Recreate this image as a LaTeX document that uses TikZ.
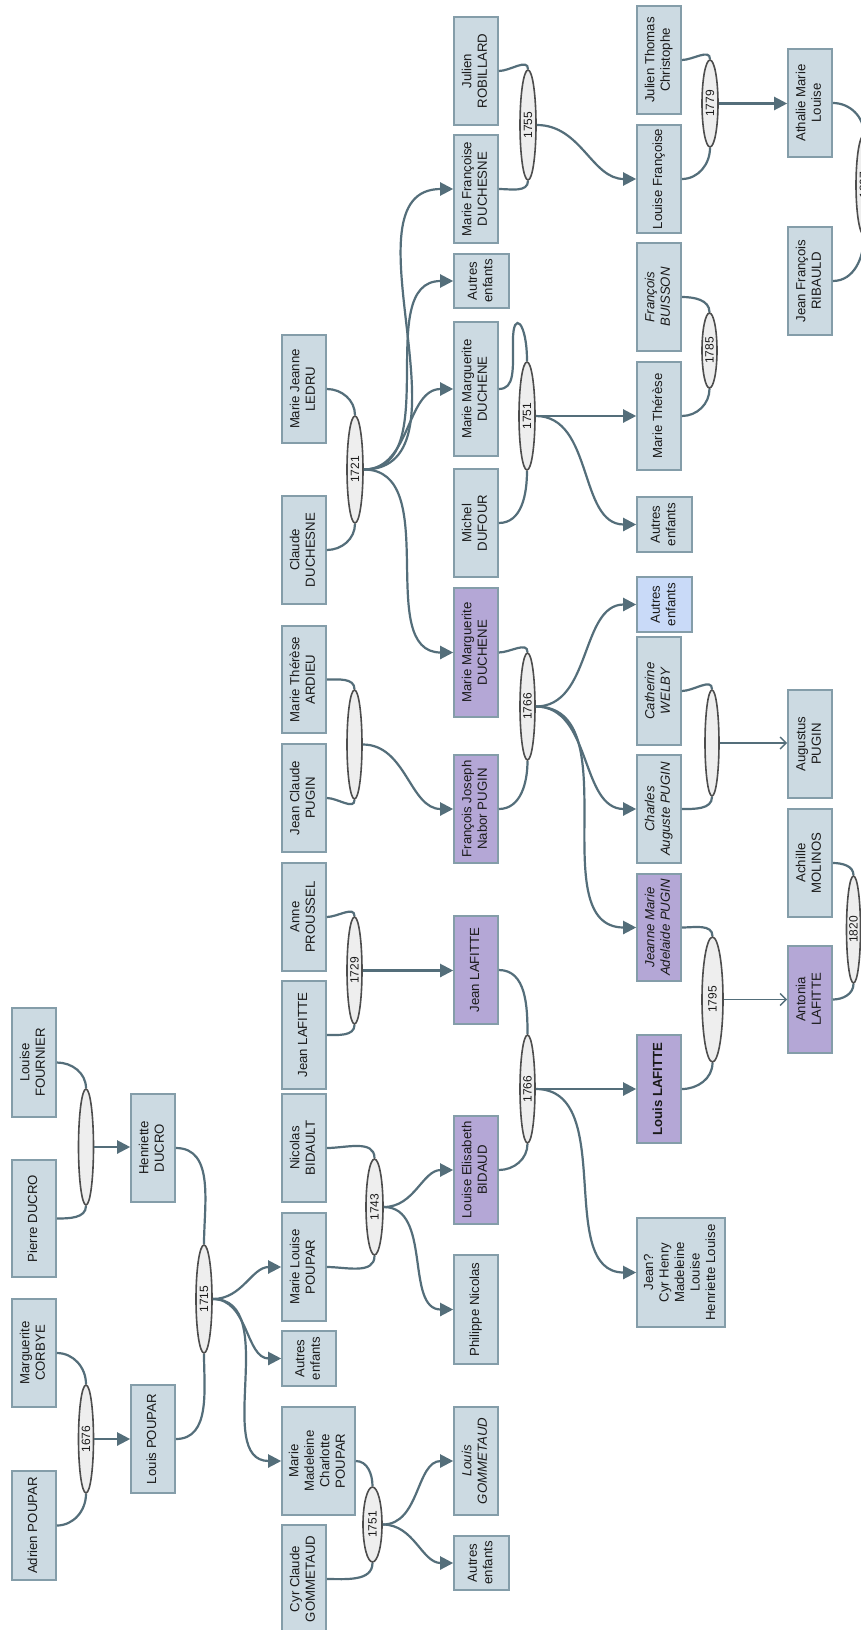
\documentclass[tikz,border=0pt]{standalone}
\usepackage{fontspec}
\usepackage{graphicx}
\setmainfont{Liberation Sans}
\usetikzlibrary{shapes.geometric,arrows.meta}
\definecolor{boxfill}{HTML}{CCDAE2}
\definecolor{boxline}{HTML}{849DA9}
\definecolor{purplefill}{HTML}{B4A7D6}
\definecolor{bluefill}{HTML}{C9DAF8}
\definecolor{ellfill}{HTML}{EEEEEE}
\definecolor{ellline}{HTML}{4D4D4D}
\definecolor{linkcol}{HTML}{546E7A}
\definecolor{textcol}{HTML}{1A1A1A}
\newcommand\rtxt[1]{\rotatebox{90}{\begin{tabular}{@{}c@{}}#1\end{tabular}}}
\begin{document}
\begin{tikzpicture}[x=1pt,y=1pt,
  box/.style={draw=boxline, line width=1.6pt, fill=boxfill, inner sep=0pt, text=textcol, font=\fontsize{13.2}{15.5}\selectfont},
  purple/.style={box, fill=purplefill},
  bluebox/.style={box, fill=bluefill},
  it/.style={font=\fontsize{13.2}{15.5}\selectfont\itshape},
  bf/.style={font=\fontsize{13.2}{15.5}\selectfont\bfseries},
  sz/.style 2 args={minimum width=#1pt, minimum height=#2pt},
  ell/.style={ellipse, draw=ellline, line width=1.6pt, fill=ellfill, inner sep=0pt, text=textcol, font=\fontsize{12}{14}\selectfont},
  link/.style={draw=linkcol, line width=2.2pt},
  kid/.style={link, -{Triangle[length=13pt,width=13pt]}},
  thinkid/.style={draw=linkcol, line width=1.4pt, -{Straight Barb[length=6pt,width=12pt]}}
]
\fill[white] (0,0) rectangle (861,-1630);
\useasboundingbox (0,0) rectangle (861,-1630);

% ---- boxes ----
\node[box, sz={44}{109}] (fournier) at (34,-1062.5) {\rtxt{Louise\\FOURNIER}};
\node[box, sz={44}{117}] (pducro) at (34,-1218.5) {\rtxt{Pierre DUCRO}};
\node[box, sz={44}{108}] (corbye) at (34,-1353) {\rtxt{Marguerite\\CORBYE}};
\node[box, sz={44}{109}] (apoupar) at (34,-1525.5) {\rtxt{Adrien POUPAR}};
\node[box, sz={44}{108}] (hducro) at (153,-1148) {\rtxt{Henriette\\DUCRO}};
\node[box, sz={44}{108}] (lpoupar) at (153,-1439) {\rtxt{Louis POUPAR}};
\node[box, sz={44}{108}] (mlpoupar) at (304,-1267) {\rtxt{Marie Louise\\POUPAR}};
\node[box, sz={54}{55}] (aut1715) at (309,-1358.5) {\rtxt{Autres\\enfants}};
\node[box, sz={73}{108}] (mmc) at (318.5,-1461) {\rtxt{Marie\\Madeleine\\Charlotte\\POUPAR}};
\node[box, sz={44}{108}] (cyr) at (304,-1579) {\rtxt{Cyr Claude\\GOMMETAUD}};
\node[box, it, sz={44}{108}] (lgomm) at (476,-1461) {\rtxt{Louis\\GOMMETAUD}};
\node[box, sz={55}{54}] (autG) at (481.5,-1563) {\rtxt{Autres\\enfants}};
\node[box, sz={44}{108}] (nbid) at (304,-1148) {\rtxt{Nicolas\\BIDAULT}};
\node[box, sz={44}{108}] (jlaf1) at (304,-1035) {\rtxt{Jean LAFITTE}};
\node[purple, sz={44}{108}] (lebid) at (476,-1170) {\rtxt{Louise Elisabeth\\BIDAUD}};
\node[box, sz={44}{109}] (phil) at (476,-1309.5) {\rtxt{Philippe Nicolas}};
\node[box, sz={44}{108}] (prou) at (304,-917) {\rtxt{Anne\\PROUSSEL}};
\node[box, sz={44}{108}] (jcpugin) at (304,-798) {\rtxt{Jean Claude\\PUGIN}};
\node[purple, sz={44}{108}] (jlaf2) at (476,-970) {\rtxt{Jean LAFITTE}};
\node[purple, sz={44}{108}] (fjnp) at (476,-809) {\rtxt{François Joseph\\Nabor PUGIN}};
\node[box, sz={44}{107}] (ardieu) at (304,-679.5) {\rtxt{Marie Thérèse\\ARDIEU}};
\node[box, sz={44}{108}] (ledru) at (304,-389) {\rtxt{Marie Jeanne\\LEDRU}};
\node[box, sz={44}{108}] (cduch) at (304,-550) {\rtxt{Claude\\DUCHESNE}};
\node[box, sz={44}{134}] (mmd1) at (476,-389) {\rtxt{Marie Marguerite\\DUCHENE}};
\node[box, sz={44}{108}] (dufour) at (476,-523) {\rtxt{Michel\\DUFOUR}};
\node[purple, sz={44}{129}] (mmd2) at (476,-652.5) {\rtxt{Marie Marguerite\\DUCHENE}};
\node[box, sz={44}{108}] (mtherese) at (659,-416) {\rtxt{Marie Thérèse}};
\node[box, sz={55}{55}] (aut1751) at (664.5,-524.5) {\rtxt{Autres\\enfants}};
\node[bluebox, sz={55}{55}] (autblue) at (664.5,-604.5) {\rtxt{Autres\\enfants}};
\node[box, it, sz={44}{108}] (welby) at (659,-691) {\rtxt{Catherine\\WELBY}};
\node[box, sz={44}{108}] (robil) at (476,-71) {\rtxt{Julien\\ROBILLARD}};
\node[box, sz={44}{108}] (mfduch) at (476,-189) {\rtxt{Marie Françoise\\DUCHESNE}};
\node[box, sz={55}{54}] (aut1721) at (481.5,-281) {\rtxt{Autres\\enfants}};
\node[box, sz={44}{108}] (jtc) at (659,-60) {\rtxt{Julien Thomas\\Christophe}};
\node[box, sz={44}{108}] (lfr) at (659,-179) {\rtxt{Louise Françoise}};
\node[box, sz={44}{108}] (athalie) at (810,-103) {\rtxt{Athalie Marie\\Louise}};
\node[box, sz={44}{108}] (ribauld) at (810,-281) {\rtxt{Jean François\\RIBAULD}};
\node[box, it, sz={44}{108}] (buisson) at (659,-297) {\rtxt{François\\BUISSON}};
\node[box, sz={44}{108}] (augustus) at (810,-744) {\rtxt{Augustus\\PUGIN}};
\node[box, it, sz={44}{108}] (charles) at (659,-809) {\rtxt{Charles\\Auguste PUGIN}};
\node[purple, it, sz={44}{107}] (jmapugin) at (659,-927.5) {\rtxt{Jeanne Marie\\Adelaide PUGIN}};
\node[purple, bf, sz={44}{108}] (llafitte) at (659,-1089) {\rtxt{Louis LAFITTE}};
\node[purple, sz={44}{107}] (antonia) at (810,-999.5) {\rtxt{Antonia\\LAFITTE}};
\node[box, sz={44}{108}] (achille) at (810,-863) {\rtxt{Achille\\MOLINOS}};
\node[box, sz={88}{109}] (jean) at (681,-1272.5) {\rtxt{Jean?\\Cyr Henry\\Madeleine\\Louise\\Henriette Louise}};

% ---- marriage ellipses ----
\node[ell, sz={15}{116}] (educro) at (86,-1147) {};
\node[ell, sz={15}{108}] (e1676) at (86,-1439) {\rotatebox{90}{1676}};
\node[ell, sz={16}{108}] (e1715) at (204,-1299) {\rotatebox{90}{1715}};
\node[ell, sz={19}{75}] (e1751g) at (372.5,-1524.5) {\rotatebox{90}{1751}};
\node[ell, sz={17}{96}] (e1743) at (374.5,-1207) {\rotatebox{90}{1743}};
\node[ell, sz={15}{107}] (e1729) at (354.5,-970.5) {\rotatebox{90}{1729}};
\node[ell, sz={15}{109}] (epugin) at (354.5,-744.5) {};
\node[ell, sz={16}{107}] (e1721) at (355,-469.5) {\rotatebox{90}{1721}};
\node[ell, sz={16}{108}] (e1751d) at (527,-416) {\rotatebox{90}{1751}};
\node[ell, sz={15}{107}] (e1766p) at (527.5,-706.5) {\rotatebox{90}{1766}};
\node[ell, sz={15}{108}] (e1766l) at (527.5,-1089) {\rotatebox{90}{1766}};
\node[ell, sz={16}{110}] (e1755) at (528,-125) {\rotatebox{90}{1755}};
\node[ell, sz={16}{87}] (e1779) at (710,-103.5) {\rotatebox{90}{1779}};
\node[ell, sz={16}{100}] (e1807) at (864,-185) {\rotatebox{90}{1807}};
\node[ell, sz={15}{75}] (e1785) at (709.5,-350.5) {\rotatebox{90}{1785}};
\node[ell, sz={14}{106}] (ewelby) at (712,-743) {};
\node[ell, sz={21}{125}] (e1795) at (712.5,-999.5) {\rotatebox{90}{1795}};
\node[ell, sz={14}{107}] (e1820) at (853.5,-929.5) {\rotatebox{90}{1820}};

% ---- parents to marriages ----
\draw[link] (fournier.east) to[out=0,in=90] (educro.north);
\draw[link] (pducro.east) to[out=0,in=-90] (educro.south);
\draw[link] (corbye.east) to[out=0,in=90] (e1676.north);
\draw[link] (apoupar.east) to[out=0,in=-90] (e1676.south);
\draw[link] (hducro.east) to[out=0,in=90] (e1715.north);
\draw[link] (lpoupar.east) to[out=0,in=-90] (e1715.south);
\draw[link] (mmc.east) to[out=0,in=90] (e1751g.north);
\draw[link] (cyr.east) to[out=0,in=-90] (e1751g.south);
\draw[link] (nbid.east) to[out=0,in=90] (e1743.north);
\draw[link] (mlpoupar.east) to[out=0,in=-90] (e1743.south);
\draw[link] (prou.east) to[out=0,in=90] (e1729.north);
\draw[link] (jlaf1.east) to[out=0,in=-90] (e1729.south);
\draw[link] (ardieu.east) to[out=0,in=90] (epugin.north);
\draw[link] (jcpugin.east) to[out=0,in=-90] (epugin.south);
\draw[link] (ledru.east) to[out=0,in=90] (e1721.north);
\draw[link] (cduch.east) to[out=0,in=-90] (e1721.south);
\draw[link] (mmd1.east) .. controls +(16,0) and +(0,-30) .. (513,-340) .. controls +(0,30) and +(0,40) .. (e1751d.north);
\draw[link] (dufour.east) to[out=0,in=-90] (e1751d.south);
\draw[link] (mmd2.east) to[out=0,in=90] (e1766p.north);
\draw[link] (fjnp.east) to[out=0,in=-90] (e1766p.south);
\draw[link] (jlaf2.east) to[out=0,in=90] (e1766l.north);
\draw[link] (lebid.east) to[out=0,in=-90] (e1766l.south);
\draw[link] (robil.east) to[out=0,in=90] (e1755.north);
\draw[link] (mfduch.east) to[out=0,in=-90] (e1755.south);
\draw[link] (jtc.east) to[out=0,in=90] (e1779.north);
\draw[link] (lfr.east) to[out=0,in=-90] (e1779.south);
\draw[link] (athalie.east) to[out=0,in=90] (e1807.north);
\draw[link] (ribauld.east) to[out=0,in=-90] (e1807.south);
\draw[link] (buisson.east) to[out=0,in=90] (e1785.north);
\draw[link] (mtherese.east) to[out=0,in=-90] (e1785.south);
\draw[link] (welby.east) to[out=0,in=90] (ewelby.north);
\draw[link] (charles.east) to[out=0,in=-90] (ewelby.south);
\draw[link] (jmapugin.east) to[out=0,in=90] (e1795.north);
\draw[link] (llafitte.east) to[out=0,in=-90] (e1795.south);
\draw[link] (achille.east) to[out=0,in=90] (e1820.north);
\draw[link] (antonia.east) to[out=0,in=-90] (e1820.south);

% ---- marriages to children ----
\draw[kid] (educro.east) -- (educro.east -| hducro.west);
\draw[kid] (e1676.east) -- (e1676.east -| lpoupar.west);
\draw[kid] (e1715.east) to[out=0,in=180] (mlpoupar.west);
\draw[kid] (e1715.east) to[out=0,in=180] (aut1715.west);
\draw[kid] (e1715.east) to[out=0,in=180] (mmc.west);
\draw[kid] (e1751g.east) to[out=0,in=180] (lgomm.west);
\draw[kid] (e1751g.east) to[out=0,in=180] (autG.west);
\draw[kid] (e1743.east) to[out=0,in=180] (lebid.west);
\draw[kid] (e1743.east) to[out=0,in=180] (phil.west);
\draw[kid] (e1729.east) -- (e1729.east -| jlaf2.west);
\draw[kid] (epugin.east) to[out=0,in=180] (fjnp.west);
\draw[kid] (e1721.east) to[out=0,in=180] (mmd2.west);
\draw[kid] (e1721.east) to[out=0,in=180] (mmd1.west);
\draw[kid] (e1721.east) to[out=0,in=180] (aut1721.west);
\draw[kid] (e1721.east) to[out=0,in=180] (mfduch.west);
\draw[kid] (e1751d.east) -- (e1751d.east -| mtherese.west);
\draw[kid] (e1751d.east) to[out=0,in=180] (aut1751.west);
\draw[kid] (e1766p.east) to[out=0,in=180] (autblue.west);
\draw[kid] (e1766p.east) to[out=0,in=180] (charles.west);
\draw[kid] (e1766p.east) to[out=0,in=180] (jmapugin.west);
\draw[kid] (e1766l.east) -- (e1766l.east -| llafitte.west);
\draw[kid] (e1766l.east) to[out=0,in=180] (jean.west);
\draw[kid] (e1755.east) to[out=0,in=180] (lfr.west);
\draw[kid] (e1779.east) -- (e1779.east -| athalie.west);
\draw[thinkid] (ewelby.east) -- (ewelby.east -| augustus.west);
\draw[thinkid] (e1795.east) -- (e1795.east -| antonia.west);
\end{tikzpicture}
\end{document}
